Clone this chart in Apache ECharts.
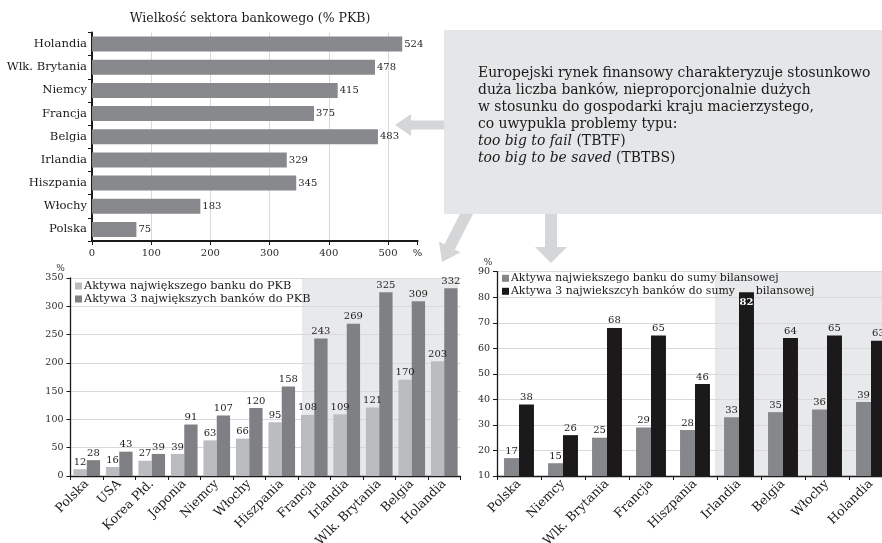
<!DOCTYPE html>
<html>
<head>
<meta charset="utf-8">
<script src="https://cdn.jsdelivr.net/npm/echarts@6/dist/echarts.min.js"></script>
<style>
  html, body { margin: 0; padding: 0; background: #fff; }
  #chart { width: 882px; height: 543px; }
</style>
</head>
<body>
<div id="chart"></div>
<script>
// Banking sector size, % of GDP (top to bottom)
const sectorCountries = ['Holandia', 'Wlk. Brytania', 'Niemcy', 'Francja', 'Belgia', 'Irlandia', 'Hiszpania', 'Włochy', 'Polska'];
const sectorValues = [524, 478, 415, 375, 483, 329, 345, 183, 75];

// Bank assets relative to GDP
const gdpCountries = ['Polska', 'USA', 'Korea Płd.', 'Japonia', 'Niemcy', 'Włochy', 'Hiszpania', 'Francja', 'Irlandia', 'Wlk. Brytania', 'Belgia', 'Holandia'];
const topBankGdp = [12, 16, 27, 39, 63, 66, 95, 108, 109, 121, 170, 203];
const top3BanksGdp = [28, 43, 39, 91, 107, 120, 158, 243, 269, 325, 309, 332];
const gdpHighlightFrom = 'Francja';

// Bank assets relative to total balance sheet
const bsCountries = ['Polska', 'Niemcy', 'Wlk. Brytania', 'Francja', 'Hiszpania', 'Irlandia', 'Belgia', 'Włochy', 'Holandia'];
const topBankBs = [17, 15, 25, 29, 28, 33, 35, 36, 39];
const top3BanksBs = [38, 26, 68, 65, 46, 82, 64, 65, 63];
const bsHighlightFrom = 'Irlandia';

const seriesNames = [
  'Aktywa największego banku do PKB',
  'Aktywa 3 największych banków do PKB',
  'Aktywa najwiekszego banku do sumy bilansowej',
  'Aktywa 3 najwiekszcyh banków do sumy      bilansowej'
];

const noteLines = [
  'Europejski rynek finansowy charakteryzuje stosunkowo',
  'duża liczba banków, nieproporcjonalnie dużych',
  'w stosunku do gospodarki kraju macierzystego,',
  'co uwypukla problemy typu:',
  '{i|too big to fail} (TBTF)',
  '{i|too big to be saved} (TBTBS)'
];

const FONT = 'DejaVu Serif';
const INK = '#1a1a1a';
const GRID_LINE = '#d9d9db';
const SHADE = '#e8e9eb';
const ARROW = '#d5d6d8';
const PAGE_W = 882;

const chart = echarts.init(document.getElementById('chart'), null, { renderer: 'canvas' });

const valueLabel = (pos) => ({
  show: true, position: pos, distance: 2,
  fontFamily: FONT, fontSize: 10, color: '#1e1e1e'
});

const catAxisLabel = {
  rotate: 45, margin: 6, fontFamily: FONT, fontSize: 12.5, color: INK, interval: 0
};

const maxBs = Math.max(...top3BanksBs);

const option = {
  animation: false,
  backgroundColor: '#fff',
  title: {
    text: 'Wielkość sektora bankowego (% PKB)',
    left: 245, top: 7, textAlign: 'center',
    textStyle: { fontFamily: FONT, fontSize: 12.5, fontWeight: 'normal', color: INK }
  },
  legend: [
    {
      left: 75, top: 279.5, orient: 'vertical', itemGap: 0, padding: 0,
      itemWidth: 7, itemHeight: 7, icon: 'rect',
      data: [seriesNames[0], seriesNames[1]],
      textStyle: { fontFamily: FONT, fontSize: 11.3, color: INK, lineHeight: 13, padding: [0, 0, 0, -3] }
    },
    {
      left: 502, top: 271.8, orient: 'vertical', itemGap: 0, padding: 0,
      itemWidth: 7, itemHeight: 7, icon: 'rect',
      data: [seriesNames[2], seriesNames[3]],
      textStyle: { fontFamily: FONT, fontSize: 10.9, color: INK, lineHeight: 13, padding: [0, 0, 0, -3] }
    }
  ],
  grid: [
    { left: 92, top: 32.5, width: 325.6, height: 208.5, outerBoundsMode: 'none' },
    { left: 70.5, top: 278, width: 390, height: 198, outerBoundsMode: 'none' },
    { left: 497, top: 271.7, width: 396, height: 204.3, outerBoundsMode: 'none' }
  ],
  xAxis: [
    {
      gridIndex: 0, type: 'value', min: 0, max: 550, interval: 100,
      axisLine: { show: true, lineStyle: { color: INK, width: 2 } },
      axisTick: { show: true, length: 4, lineStyle: { color: INK } },
      splitLine: { show: true, showMinLine: false, showMaxLine: false, lineStyle: { color: GRID_LINE } },
      axisLabel: {
        margin: 7, fontFamily: FONT, fontSize: 10, color: '#2a2a2a',
        formatter: (v) => (v === 550 ? '%' : String(v)),
        showMaxLabel: true
      }
    },
    {
      gridIndex: 1, type: 'category', data: gdpCountries,
      axisLine: { lineStyle: { color: INK, width: 1.3 } },
      axisTick: { show: true, length: 4, lineStyle: { color: INK } },
      axisLabel: catAxisLabel
    },
    {
      gridIndex: 2, type: 'category', data: bsCountries,
      axisLine: { lineStyle: { color: INK, width: 1.3 } },
      axisTick: { show: true, length: 4, lineStyle: { color: INK } },
      axisLabel: catAxisLabel
    }
  ],
  yAxis: [
    {
      gridIndex: 0, type: 'category', data: sectorCountries, inverse: true,
      axisLine: { show: true, lineStyle: { color: INK, width: 2 } },
      axisTick: { show: true, length: 4, lineStyle: { color: INK } },
      axisLabel: { margin: 5, fontFamily: FONT, fontSize: 11.6, color: INK }
    },
    {
      gridIndex: 1, type: 'value', min: 0, max: 350, interval: 50,
      name: '%', nameLocation: 'end', nameGap: 4,
      nameTextStyle: { fontFamily: FONT, fontSize: 9, color: '#2a2a2a', padding: [0, 20, 0, 0] },
      axisLine: { show: true, lineStyle: { color: INK, width: 1.3 } },
      axisTick: { show: true, length: 4, lineStyle: { color: INK } },
      splitLine: { show: true, lineStyle: { color: GRID_LINE } },
      axisLabel: { margin: 7, fontFamily: FONT, fontSize: 9.5, color: '#2a2a2a' }
    },
    {
      gridIndex: 2, type: 'value', min: 10, max: 90, interval: 10,
      name: '%', nameLocation: 'end', nameGap: 4,
      nameTextStyle: { fontFamily: FONT, fontSize: 9, color: '#2a2a2a', padding: [0, 18, 0, 0] },
      axisLine: { show: true, lineStyle: { color: INK, width: 1.3 } },
      axisTick: { show: true, length: 4, lineStyle: { color: INK } },
      splitLine: { show: true, lineStyle: { color: GRID_LINE } },
      axisLabel: { margin: 7, fontFamily: FONT, fontSize: 9.5, color: '#2a2a2a' }
    }
  ],
  series: [
    {
      name: 'Wielkość sektora bankowego', type: 'bar', xAxisIndex: 0, yAxisIndex: 0,
      data: sectorValues, barCategoryGap: '35%',
      itemStyle: { color: '#88898d' },
      label: valueLabel('right')
    },
    {
      name: seriesNames[0], type: 'bar', xAxisIndex: 1, yAxisIndex: 1,
      data: topBankGdp, barGap: '0%', barCategoryGap: '18%',
      itemStyle: { color: '#bbbcc0' },
      label: valueLabel('top')
    },
    {
      name: seriesNames[1], type: 'bar', xAxisIndex: 1, yAxisIndex: 1,
      data: top3BanksGdp, barGap: '0%', barCategoryGap: '18%',
      itemStyle: { color: '#7f8084' },
      label: valueLabel('top')
    },
    {
      name: seriesNames[2], type: 'bar', xAxisIndex: 2, yAxisIndex: 2,
      data: topBankBs, barGap: '0%', barCategoryGap: '32%',
      itemStyle: { color: '#86878b' },
      label: valueLabel('top')
    },
    {
      name: seriesNames[3], type: 'bar', xAxisIndex: 2, yAxisIndex: 2,
      data: top3BanksBs.map((v) => v === maxBs
        ? { value: v, label: { position: 'insideTop', distance: 5, color: '#fff', fontWeight: 'bold' } }
        : v),
      barGap: '0%', barCategoryGap: '32%',
      itemStyle: { color: '#1c191a' },
      label: valueLabel('top')
    }
  ]
};

chart.setOption(option);

// Shaded band behind the highlighted group of countries
function bandRect(axisIdx, cats, fromCat, yMin, yMax, inset, clipRight) {
  const c0 = chart.convertToPixel({ xAxisIndex: axisIdx }, cats[0]);
  const c1 = chart.convertToPixel({ xAxisIndex: axisIdx }, cats[1]);
  const half = (c1 - c0) / 2;
  const x0 = chart.convertToPixel({ xAxisIndex: axisIdx }, fromCat) - half + inset;
  const x1 = Math.min(chart.convertToPixel({ xAxisIndex: axisIdx }, cats[cats.length - 1]) + half, clipRight);
  const yTop = chart.convertToPixel({ yAxisIndex: axisIdx }, yMax);
  const yBot = chart.convertToPixel({ yAxisIndex: axisIdx }, yMin);
  return {
    type: 'rect', z: -10, silent: true,
    shape: { x: x0, y: yTop, width: x1 - x0, height: yBot - yTop },
    style: { fill: SHADE }
  };
}

const noteTexts = noteLines.map((line, i) => ({
  type: 'text', z: 5,
  style: {
    text: line, x: 478, y: 73 + i * 17, verticalAlign: 'middle',
    font: '13.9px "' + FONT + '"', fill: INK,
    rich: { i: { fontStyle: 'italic', fontFamily: FONT, fontSize: 13.9, fill: INK } }
  }
}));

chart.setOption({
  graphic: [
    bandRect(1, gdpCountries, gdpHighlightFrom, 0, 350, 4, 458),
    bandRect(2, bsCountries, bsHighlightFrom, 10, 90, -2, PAGE_W),
    // note box
    { type: 'rect', z: 3, shape: { x: 444, y: 30, width: PAGE_W - 444, height: 184 }, style: { fill: '#e5e6e8' } },
    ...noteTexts,
    // arrow pointing left to the sector chart
    {
      type: 'polygon', z: 3,
      shape: { points: [[444, 120.5], [411, 120.5], [411, 114], [395, 125], [411, 136], [411, 129.5], [444, 129.5]] },
      style: { fill: ARROW }
    },
    // arrow pointing down-left to the GDP chart
    {
      type: 'polygon', z: 3,
      shape: { points: [[460, 214], [473, 214], [454.9, 249.5], [460.4, 252.4], [442, 262], [439, 241.4], [444.5, 244.3]] },
      style: { fill: ARROW }
    },
    // arrow pointing down to the balance-sheet chart
    {
      type: 'polygon', z: 3,
      shape: { points: [[545, 214], [557, 214], [557, 247], [567, 247], [551, 263], [535, 247], [545, 247]] },
      style: { fill: ARROW }
    }
  ]
});
</script>
</body>
</html>
